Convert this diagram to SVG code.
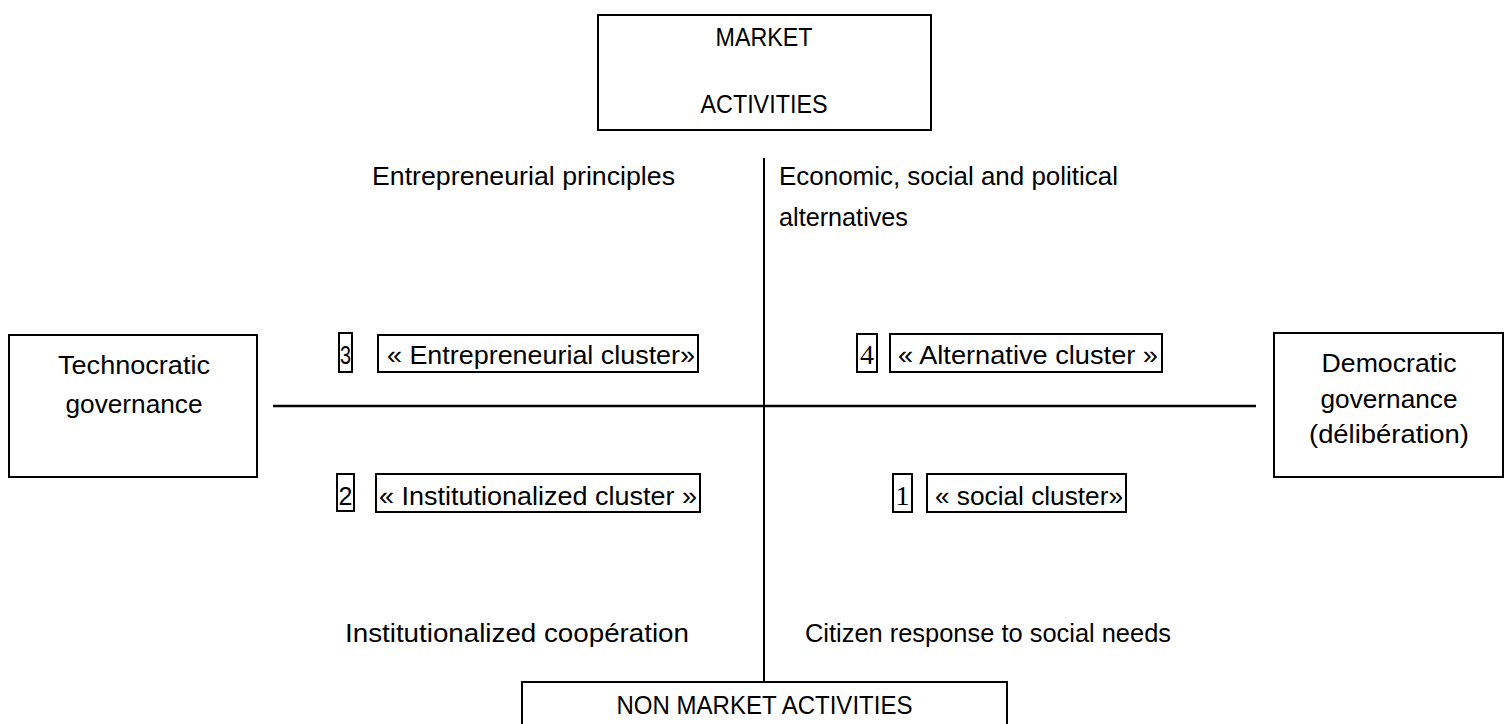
<svg xmlns="http://www.w3.org/2000/svg" width="1512" height="724" viewBox="0 0 1512 724">
<style>
.t{font-family:"Liberation Sans",Arial,sans-serif;font-size:25px;fill:#000}
.m{text-anchor:middle}
.b{fill:none;stroke:#000;stroke-width:2}
.s{fill:none;stroke:#000;stroke-width:2}
.n{font-family:"Liberation Serif","Times New Roman",serif;font-size:28px;fill:#000}
</style>
<rect width="1512" height="724" fill="#fff"/>
<g id="connectors">
<line x1="764" y1="158" x2="764" y2="682" stroke="#000" stroke-width="2"/>
<line x1="273" y1="406" x2="1256" y2="406" stroke="#000" stroke-width="2.5"/>
</g>
<g id="market">
<rect class="b" x="598" y="15" width="333" height="115"/>
<text class="t m" x="764" y="46" textLength="97" lengthAdjust="spacingAndGlyphs">MARKET</text>
<text class="t m" x="764" y="113" textLength="127" lengthAdjust="spacingAndGlyphs">ACTIVITIES</text>
</g>
<g id="nonmarket">
<rect class="b" x="522" y="682" width="485" height="50"/>
<text class="t m" x="764.5" y="714" textLength="296" lengthAdjust="spacingAndGlyphs">NON MARKET ACTIVITIES</text>
</g>
<g id="technocratic">
<rect class="b" x="9" y="335" width="248" height="142"/>
<text class="t m" x="134" y="374" textLength="152" lengthAdjust="spacingAndGlyphs">Technocratic</text>
<text class="t m" x="134" y="413" textLength="137" lengthAdjust="spacingAndGlyphs">governance</text>
</g>
<g id="democratic">
<rect class="b" x="1274" y="333" width="229" height="144"/>
<text class="t m" x="1389" y="372" textLength="135" lengthAdjust="spacingAndGlyphs">Democratic</text>
<text class="t m" x="1389" y="408" textLength="137" lengthAdjust="spacingAndGlyphs">governance</text>
<text class="t m" x="1389" y="443" textLength="160" lengthAdjust="spacingAndGlyphs">(délibération)</text>
</g>
<g id="labels">
<text class="t" x="372" y="185" textLength="303" lengthAdjust="spacingAndGlyphs">Entrepreneurial principles</text>
<text class="t" x="779" y="185" textLength="339" lengthAdjust="spacingAndGlyphs">Economic, social and political</text>
<text class="t" x="779" y="226" textLength="129" lengthAdjust="spacingAndGlyphs">alternatives</text>
<text class="t" x="345" y="642" textLength="344" lengthAdjust="spacingAndGlyphs">Institutionalized coopération</text>
<text class="t" x="805" y="642" textLength="366" lengthAdjust="spacingAndGlyphs">Citizen response to social needs</text>
</g>
<g id="cluster3">
<rect class="s" x="339" y="333" width="13" height="39"/>
<text class="t m" x="345.5" y="364" textLength="11" lengthAdjust="spacingAndGlyphs">3</text>
<rect class="s" x="378" y="335" width="320" height="37"/>
<text class="t" x="387" y="364" textLength="308" lengthAdjust="spacingAndGlyphs">« Entrepreneurial cluster»</text>
</g>
<g id="cluster4">
<rect class="s" x="857" y="334" width="20" height="38"/>
<text class="n m" x="867" y="364">4</text>
<rect class="s" x="890" y="334" width="272" height="38"/>
<text class="t" x="898" y="364" textLength="260" lengthAdjust="spacingAndGlyphs">« Alternative cluster »</text>
</g>
<g id="cluster2">
<rect class="s" x="337" y="474" width="17" height="37"/>
<text class="t m" x="345.5" y="505">2</text>
<rect class="s" x="376" y="474" width="324" height="38"/>
<text class="t" x="379" y="505" textLength="318" lengthAdjust="spacingAndGlyphs">« Institutionalized cluster »</text>
</g>
<g id="cluster1">
<rect class="s" x="893" y="474" width="19" height="38"/>
<text class="n m" x="902.5" y="505">1</text>
<rect class="s" x="927" y="474" width="199" height="38"/>
<text class="t" x="935" y="505" textLength="188" lengthAdjust="spacingAndGlyphs">« social cluster»</text>
</g>
</svg>
